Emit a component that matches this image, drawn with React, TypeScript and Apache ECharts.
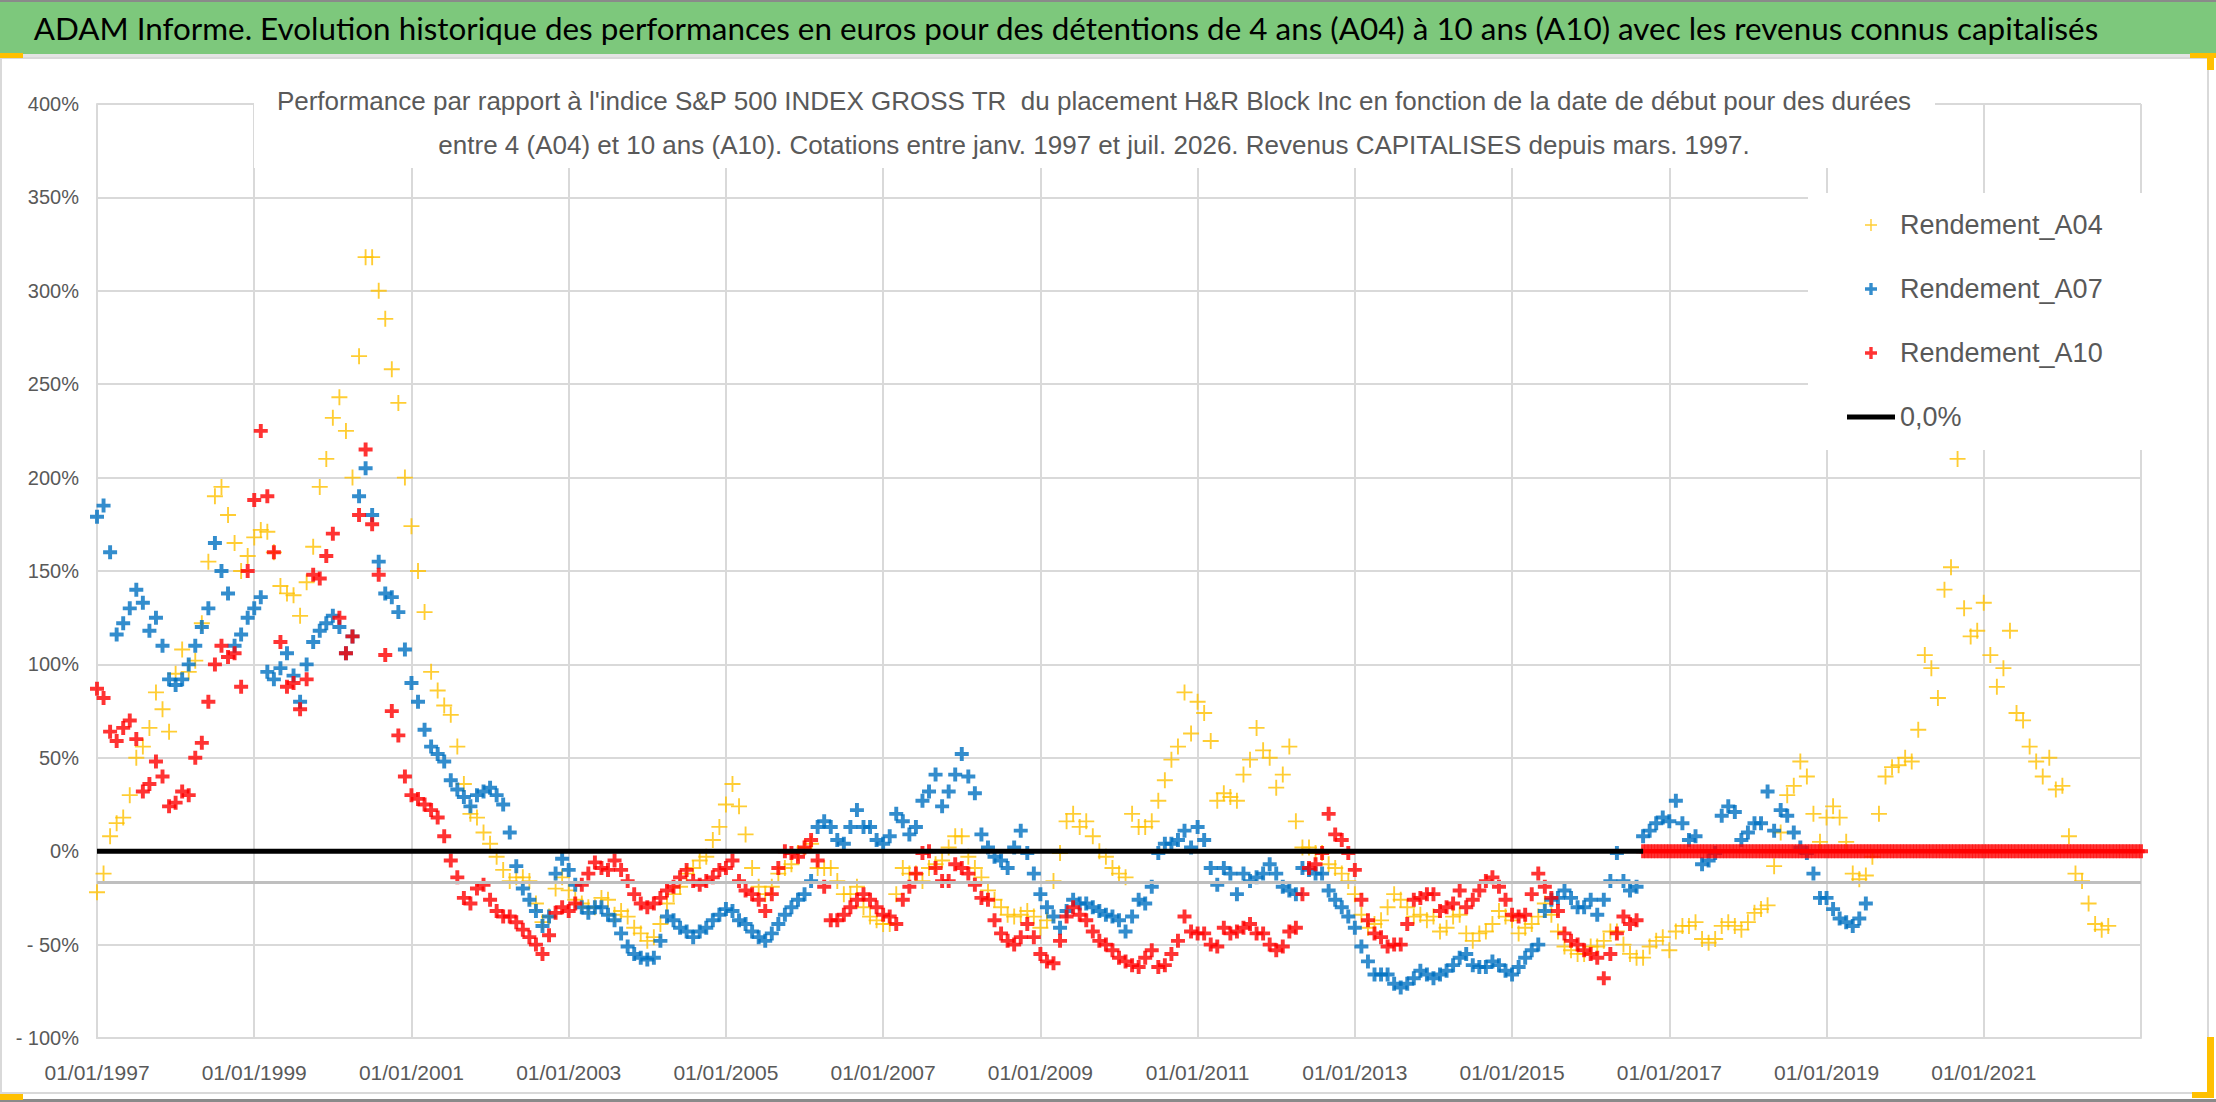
import * as echarts from "echarts";
import { useEffect, useRef } from "react";

// x = months since 01/01/1997, y = performance in %
const seriesNames = ["Rendement_A04", "Rendement_A07", "Rendement_A10", "0,0%"];

const a04Start = 0;
const a04Values = [
	-22, -12, 8, 15, 18, 30, 50, 56, 66, 85, 76, 64, 95, 108, 96, 102, 122, 155, 190, 195,
	180, 165, 150, 158, 168, 172, 171, 160, 142, 138, 137, 126, 144, 163, 195, 210, 232, 243, 225, 200,
	265, 318, 318, 300, 285, 258, 240, 200,
	174, 150, 128, 96, 86, 78, 73, 56, 36, 20, 18, 10, 4, -3, -10, -16, -14, -14, -16, -28,
	-38, -35, -20, -14, -21, -26, -28, -30, -30,
	-25, -26, -34, -32, -35, -41, -44, -48, -46, -39, -28, -23, -19, -12, -9, -5, -3, 6, 13, 25,
	36, 24, 9, -9, -19, -23, -19, -12, -9, -7, -1, 2, 4, -9, -9, -9, -16, -23, -23, -19,
	-30, -35, -37, -39, -39, -23, -9, -12, -12, -16, -9, -7, -5, 2, 8, 8, -3, -9, -14, -21,
	-26, -30, -34, -35, -34, -32, -35, -41, -37, -16, -1, 16, 20, 13, 16, 8, 0, -3, -9, -12,
	-14, 20, 13,
	13, 16, 27, 38, 49, 56, 85, 63, 80, 74, 59, 27, 31, 29, 27, 41, 49, 66, 54, 50,
	34, 41, 56, 16, 2, 2, -1, -1, -7, -9, -12, -16, -23, -34, -41, -39, -37, -30, -23, -26,
	-30, -35, -34, -37, -35, -43, -41, -35, -34, -44, -48, -44, -43, -39, -32, -35, -37, -44, -41, -39,
	-35, -28, -34, -43, -51, -53, -55, -55, -51, -51, -48, -43, -43, -50, -55, -57, -57, -51, -48, -46,
	-53, -43,
	-40, -40, -38, -47, -49, -47, -40, -38, -40, -42, -38, -33, -31, -29, -8, 10, 30, 35, 48, 40,
	20, 5, 18, 24, 18, 5, -12, -15, -13, -3, 20, 40, 45, 46, 50, 48, 65, 105, 98, 82,
	140, 152, 210, 130, 115, 118, 133, 105, 88, 98, 118, 74, 70, 56, 48, 40, 50, 33, 35, 8,
	-12, -16, -28, -39, -42, -40,
];

const a07Start = 0;
const a07Values = [
	179, 185, 160, 116, 122, 130, 140, 133, 118, 125, 110, 92, 89, 92, 100, 110, 120, 130, 165, 150,
	138, 110, 116, 125, 130, 136, 96, 92, 98, 106, 94, 80, 100, 112, 118, 122, 126, 120, 106, 115,
	190, 205, 180, 155, 138, 136, 128, 108, 90, 80, 65, 56, 52, 48, 38, 33, 29, 24,
	30, 32, 34, 30, 25, 10, -8, -20, -26, -32, -40, -35, -12, -4, -10, -18, -30, -33, -30,
	-30, -34, -37, -44, -51, -55, -57, -58, -57, -48, -35, -37, -41, -43, -46, -43, -41, -37, -34, -31,
	-32, -37, -39, -43, -46, -48, -44, -39, -34, -30, -26, -23, -16, 13, 16, 13, 6, 4, 13, 22,
	13, 13, 6, 4, 8, 20, 16, 9, 13, 27, 32, 41, 24, 32, 41, 52, 40, 31, 9, 2,
	-3, -5, -9, 2, 11, -1, -12, -23, -30, -35, -41, -32, -26, -28, -28, -30, -32, -34, -35, -37,
	-43, -35, -26,
	-28, -19, -1, 4, 4, 6, 11, 2, 13, 6, -9, -18, -9, -12, -23, -12, -16, -14, -12, -7,
	-12, -19, -21, -23, -9, -10, -12, -12, -21, -26, -30, -35, -41, -51, -59, -66, -66, -66, -71, -73,
	-71, -68, -64, -66, -68, -66, -64, -61, -57, -55, -61, -62, -62, -59, -61, -64, -66, -62, -57, -53,
	-50, -32, -26, -25, -21, -25, -30, -30, -26, -34, -26, -16, -1, -16, -21, -19, 8, 11, 15, 18,
	16, 27,
	15, 6, 8, -7, -5, -1, 19, 24, 21, 6, 10, 15, 15, 32, 11, 22, 19, 10, 2, -1,
	-12, -25, -25, -31, -36, -38, -40, -36, -28,
];

const a10Start = 0;
const a10Values = [
	87, 82, 64, 59, 66, 70, 60, 32, 36, 48, 40, 24, 26, 32, 30, 50, 58, 80, 100, 110,
	104, 106, 88, 150, 188, 225, 190, 160, 112, 88, 90, 76, 92, 148, 146, 158, 170, 125, 106, 115,
	180, 215, 175, 148, 105, 75, 62, 40,
	30, 28, 25, 22, 18, 8, -5, -14, -25, -28, -20, -18, -26, -32, -35, -35, -38, -42, -46, -50,
	-55, -45, -33, -30, -32, -28, -18, -12, -6,
	-9, -10, -5, -10, -16, -23, -28, -30, -28, -25, -21, -19, -14, -10, -16, -18, -16, -14, -10, -9,
	-5, -16, -21, -23, -26, -32, -23, -9, 0, -1, -3, 2, 6, -5, -19, -37, -37, -34, -30, -26,
	-23, -26, -30, -34, -35, -39, -26, -19, -12, -1, 0, -9, -16, -16, -7, -9, -12, -18, -25, -26,
	-37, -44, -48, -50, -46, -39, -46, -55, -59, -60, -48, -35, -30, -34, -37, -43, -48, -50, -53, -57,
	-59, -61, -62,
	-57, -53, -62, -61, -55, -48, -35, -43, -44, -44, -50, -51, -41, -44, -43, -41, -39, -44, -44, -50,
	-53, -51, -43, -41, -23, -9, -7, -1, 20, 9, 6, -1, -10, -26, -37, -44, -46, -51, -50, -50,
	-39, -26, -25, -23, -23, -32, -30, -28, -21, -30, -26, -21, -16, -14, -19, -26, -34, -35, -34, -23,
	-12, -19, -25, -32, -44, -48, -50, -53, -55, -57, -68, -55, -44, -35, -39, -37,
];

// A10 after 08/2016: no 10-year window yet, plotted at 0 (dense, every half month)
const a10ZeroStart = 236;
const a10ZeroStep = 0.5;
const a10ZeroValues = [
	0, 0, 0, 0, 0, 0, 0, 0, 0, 0, 0, 0, 0, 0, 0, 0, 0, 0, 0, 0,
	0, 0, 0, 0, 0, 0, 0, 0, 0, 0, 0, 0, 0, 0, 0, 0, 0, 0, 0, 0,
	0, 0, 0, 0, 0, 0, 0, 0, 0, 0, 0, 0, 0, 0, 0, 0, 0, 0, 0, 0,
	0, 0, 0, 0, 0, 0, 0, 0, 0, 0, 0, 0, 0, 0, 0, 0, 0, 0, 0, 0,
	0, 0, 0, 0, 0, 0, 0, 0, 0, 0, 0, 0, 0, 0, 0, 0, 0, 0, 0, 0,
	0, 0, 0, 0, 0, 0, 0, 0, 0, 0, 0, 0, 0, 0, 0, 0, 0, 0, 0, 0,
	0, 0, 0, 0, 0, 0, 0, 0, 0, 0, 0, 0, 0, 0, 0, 0, 0, 0, 0, 0,
	0, 0, 0, 0, 0, 0, 0, 0, 0, 0, 0, 0, 0,
];

// visible part of the black 0,0% line (hidden under the red band afterwards)
const zeroLine = [
	[0, 0],
	[236, 0],
];
const grayLevel = -16.5;

const xMin = 0;
const xMax = 312;
const xStep = 24;
const firstYear = 1997;
const yMin = -100;
const yMax = 400;
const yStep = 50;

const TITLE =
	"ADAM Informe. Evolution historique des performances en euros pour des détentions de 4 ans (A04) à 10 ans (A10) avec les revenus connus capitalisés";
const SUB1 =
	"Performance par rapport à l'indice S&P 500 INDEX GROSS TR  du placement H&R Block Inc en fonction de la date de début pour des durées";
const SUB2 =
	"entre 4 (A04) et 10 ans (A10). Cotations entre janv. 1997 et juil. 2026. Revenus CAPITALISES depuis mars. 1997.";

const SANS = '"Liberation Sans", Arial, sans-serif';
const GREY_TEXT = "#595959";
const GRID = "#d9d9d9";

const plusThin = "path://M5.3,0H6.7V5.3H12V6.7H6.7V12H5.3V6.7H0V5.3H5.3Z";
const plusBold = "path://M3.6,0H6.4V3.6H10V6.4H6.4V10H3.6V6.4H0V3.6H3.6Z";
const lineIcon = "path://M0,0H48V5H0Z";

const toPoints = (start: number, vals: number[], step = 1) => vals.map((v, i) => [start + i * step, v]);

export default function App() {
	const chartRef = useRef<HTMLDivElement>(null);

	useEffect(() => {
		document.body.style.margin = "0";
		if (!chartRef.current) return;
		const chart = echarts.init(chartRef.current, undefined, { renderer: "svg" });

		const handle = (x: number, y: number, w: number, h: number) => ({
			type: "rect",
			shape: { x, y, width: w, height: h },
			style: { fill: "#ffc000" },
			z: 20,
		});

		const centred = (text: string, x: number, y: number, font: string, size: number, fill: string, z: number) => ({
			type: "text",
			x,
			y,
			z,
			style: {
				text,
				fill,
				fontFamily: font,
				fontSize: size,
				align: "center",
				verticalAlign: "middle",
				textAlign: "center",
				textVerticalAlign: "middle",
			},
		});

		chart.setOption({
			animation: false,
			backgroundColor: "#ffffff",
			grid: { left: 97, right: 75, top: 104, bottom: 64 },
			xAxis: {
				type: "value",
				min: xMin,
				max: xMax,
				interval: xStep,
				axisLine: { show: true, onZero: false, lineStyle: { color: GRID, width: 2 } },
				axisTick: { show: false },
				splitLine: { show: true, lineStyle: { color: GRID, width: 2 } },
				axisLabel: {
					color: GREY_TEXT,
					fontFamily: SANS,
					fontSize: 21,
					margin: 24,
					showMaxLabel: false,
					formatter: (v: number) => (v >= xMax ? "" : `01/01/${firstYear + v / 12}`),
				},
			},
			yAxis: {
				type: "value",
				min: yMin,
				max: yMax,
				interval: yStep,
				axisLine: { show: true, onZero: false, lineStyle: { color: GRID, width: 2 } },
				axisTick: { show: false },
				splitLine: { show: true, lineStyle: { color: GRID, width: 2 } },
				axisLabel: {
					color: GREY_TEXT,
					fontFamily: SANS,
					fontSize: 20,
					margin: 18,
					formatter: (v: number) => (v < 0 ? `- ${-v}%` : `${v}%`),
				},
			},
			legend: {
				orient: "vertical",
				left: 1808,
				top: 193,
				padding: [15, 41, 16, 39],
				backgroundColor: "#ffffff",
				itemWidth: 48,
				itemHeight: 12,
				itemGap: 30,
				selectedMode: false,
				textStyle: { color: GREY_TEXT, fontFamily: SANS, fontSize: 27, lineHeight: 34 },
				data: [
					{ name: seriesNames[0], icon: plusThin },
					{ name: seriesNames[1], icon: plusBold },
					{ name: seriesNames[2], icon: plusBold },
					{ name: seriesNames[3], icon: lineIcon },
				],
			},
			graphic: [
				{ type: "rect", shape: { x: 0, y: 0, width: 2216, height: 54 }, style: { fill: "#7dc87c" }, z: 5 },
				{ type: "rect", shape: { x: 0, y: 0, width: 2216, height: 2 }, style: { fill: "#8a8a8a" }, z: 6 },
				{ type: "rect", shape: { x: 0, y: 54, width: 2216, height: 4 }, style: { fill: "#e4e4e4" }, z: 6 },
				{
					type: "rect",
					shape: { x: 1, y: 58, width: 2207, height: 1035 },
					style: { fill: "none", stroke: GRID, lineWidth: 2 },
					z: 6,
				},
				{ type: "rect", shape: { x: 0, y: 1099, width: 2216, height: 3 }, style: { fill: "#8a8a8a" }, z: 6 },
				centred(TITLE, 1066, 28, "Lato", 31.4, "#000000", 7),
				{
					type: "rect",
					shape: { x: 254, y: 78, width: 1681, height: 90 },
					style: { fill: "#ffffff" },
					z: 10,
				},
				centred(SUB1, 1094, 101, SANS, 26, GREY_TEXT, 11),
				centred(SUB2, 1094, 145, SANS, 26, GREY_TEXT, 11),
				handle(0, 53, 23, 5),
				handle(0, 1094, 23, 6),
				handle(2190, 53, 26, 5),
				handle(2207, 53, 7, 17),
				handle(2207, 1037, 7, 61),
				handle(2192, 1092, 22, 6),
			],
			series: [
				{
					name: seriesNames[0],
					type: "scatter",
					symbol: plusThin,
					symbolSize: 16,
					itemStyle: { color: "#ffc000" },
					data: toPoints(a04Start, a04Values),
				},
				{
					name: seriesNames[1],
					type: "scatter",
					symbol: plusBold,
					symbolSize: 14,
					itemStyle: { color: "#0070c0" },
					data: toPoints(a07Start, a07Values),
				},
				{
					name: seriesNames[3],
					type: "line",
					symbol: "none",
					lineStyle: { color: "#000000", width: 5 },
					itemStyle: { color: "#000000" },
					data: zeroLine,
					markLine: {
						silent: true,
						symbol: "none",
						label: { show: false },
						lineStyle: { color: "#bfbfbf", width: 3, type: "solid" },
						data: [{ yAxis: grayLevel }],
					},
				},
				{
					name: seriesNames[2],
					type: "scatter",
					symbol: plusBold,
					symbolSize: 14,
					itemStyle: { color: "#ff0000" },
					data: [
						...toPoints(a10Start, a10Values),
						...toPoints(a10ZeroStart, a10ZeroValues, a10ZeroStep),
					],
				},
			],
		});

		return () => {
			chart.dispose();
		};
	}, []);

	return <div ref={chartRef} style={{ width: 2216, height: 1102 }} />;
}
